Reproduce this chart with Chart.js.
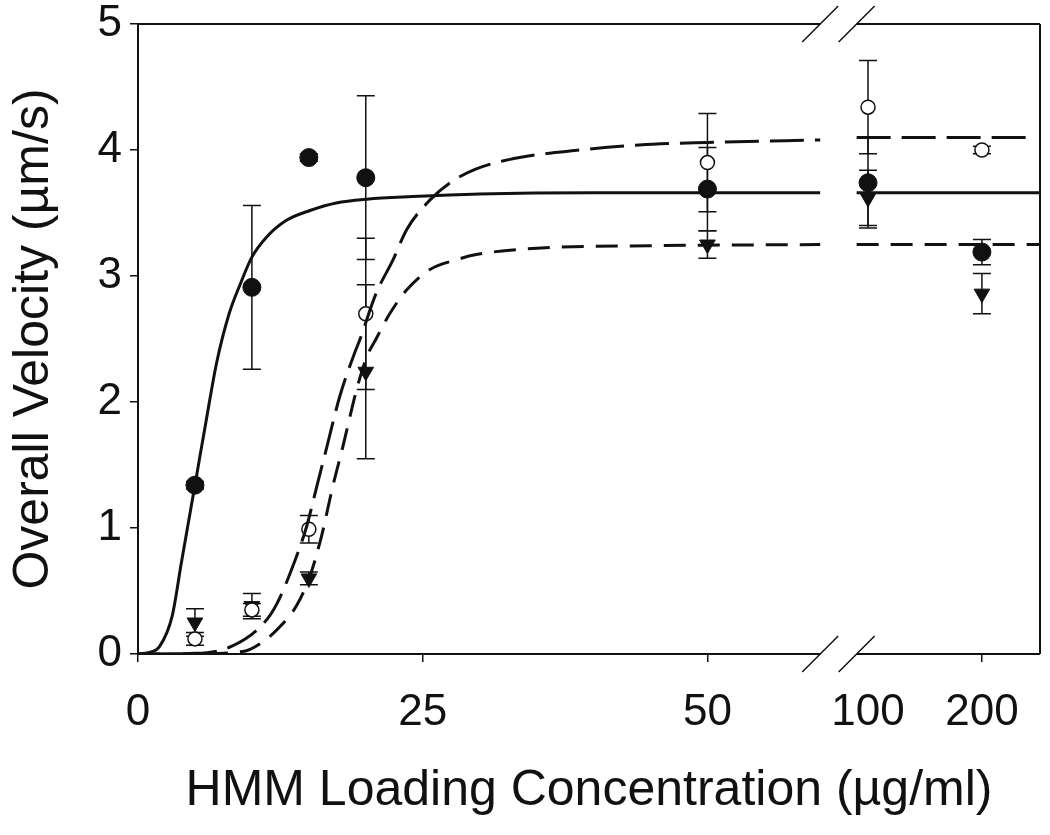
<!DOCTYPE html>
<html lang="en">
<head>
    <meta charset="UTF-8">
    <title>Overall Velocity vs HMM Loading</title>
    <script src="https://cdn.jsdelivr.net/npm/chart.js@4.4.1/dist/chart.umd.min.js"></script>
    <style>
        html, body { margin: 0; padding: 0; background: #fff; }
        #wrap { width: 1050px; height: 835px; }
    </style>
</head>
<body>
    <div id="wrap"><canvas id="velChart"></canvas></div>

    <script>
        // x axis is broken after 50: 100 and 200 sit at fixed spots on the right
        const tickPos = [0, 25, 50, 64.1, 74.1];
        const tickLabels = ['0', '25', '50', '100', '200'];
        const breakFrom = 59.9, breakTo = 63.1;

        // measured concentrations and where they land on the broken axis
        const concentrations = [5, 10, 15, 20, 50, 100, 200];
        const axisPos = [5, 10, 15, 20, 50, 64.1, 74.1];

        // filled circles
        const filledVel = [1.34, 2.91, 3.94, 3.78, 3.69, 3.74, 3.19];
        const filledErr = [0.03, 0.65, 0.03, 0.65, 0.33, 0.36, 0.10];
        // open circles
        const openVel = [0.12, 0.35, 0.99, 2.70, 3.90, 4.34, 4.00];
        const openErr = [0.05, 0.05, 0.11, 0.60, 0.39, 0.37, 0.03];
        // triangles
        const triVel = [0.25, 0.38, 0.60, 2.24, 3.25, 3.62, 2.86];
        const triErr = [0.11, 0.10, 0.05, 0.69, 0.11, 0.22, 0.16];

        // fitted curves (null = axis break)
        const fitSolidX = [0, 0.9, 1.9, 3.0, 3.8, 5.0, 6.0, 6.9, 8.0, 9.0, 10.0, 11.3, 13.0, 15.1, 17.4, 20.1, 24.1, 30, 40, 59.9, 61.5, 63.1, 79.2];
        const fitSolidY = [0, 0.01, 0.06, 0.30, 0.72, 1.34, 1.86, 2.31, 2.70, 2.94, 3.15, 3.31, 3.44, 3.52, 3.58, 3.61, 3.63, 3.65, 3.66, 3.66, null, 3.66, 3.66];
        const fitLongX = [0, 5, 8.2, 11.0, 12.2, 13.9, 14.8, 15.7, 16.6, 17.7, 18.9, 19.5, 20.9, 22.4, 23.6, 25.6, 27.4, 29.7, 33.5, 38.8, 44, 50, 59.9, 61.5, 63.1, 78.5];
        const fitLongY = [0, 0.005, 0.06, 0.24, 0.40, 0.77, 1.01, 1.33, 1.65, 2.04, 2.36, 2.50, 2.86, 3.13, 3.37, 3.60, 3.74, 3.85, 3.94, 4.00, 4.04, 4.06, 4.08, null, 4.10, 4.10];
        const fitShortX = [0, 5, 9.2, 11.0, 12.5, 13.9, 15.1, 16.1, 17.1, 18.0, 19.2, 20.1, 20.9, 22.1, 23.6, 25.6, 28.0, 29.7, 35, 45, 59.9, 61.5, 63.1, 79.2];
        const fitShortY = [0, 0.003, 0.02, 0.10, 0.22, 0.38, 0.62, 0.93, 1.33, 1.65, 2.10, 2.36, 2.50, 2.70, 2.89, 3.05, 3.13, 3.17, 3.22, 3.24, 3.25, null, 3.25, 3.25];

        const ink = '#111';
        const pts = (xs, ys) => xs.map((x, i) => ({ x: x, y: ys[i] }));

        const curve = (xs, ys, dash) => ({
            type: 'line',
            data: pts(xs, ys),
            borderColor: ink,
            borderWidth: 3,
            borderDash: dash,
            pointRadius: 0,
            cubicInterpolationMode: 'monotone',
            spanGaps: false,
            fill: false
        });

        const markers = (ys, errs, style) => Object.assign({
            type: 'scatter',
            data: pts(axisPos, ys),
            errors: errs,
            showLine: false
        }, style);

        // frame with the axis break, and the vertical error bars
        const framePlugin = {
            id: 'frame',
            beforeDatasetsDraw(chart) {
                const { ctx, scales: { x, y } } = chart;
                ctx.save();
                ctx.strokeStyle = ink;
                ctx.lineWidth = 1.5;
                chart.data.datasets.forEach(ds => {
                    if (!ds.errors) return;
                    ds.data.forEach((p, i) => {
                        const px = x.getPixelForValue(p.x);
                        const top = y.getPixelForValue(p.y + ds.errors[i]);
                        const bot = y.getPixelForValue(p.y - ds.errors[i]);
                        ctx.beginPath();
                        ctx.moveTo(px, top); ctx.lineTo(px, bot);
                        ctx.moveTo(px - 9, top); ctx.lineTo(px + 9, top);
                        ctx.moveTo(px - 9, bot); ctx.lineTo(px + 9, bot);
                        ctx.stroke();
                    });
                });
                ctx.restore();
            },
            afterDraw(chart) {
                const { ctx, chartArea: a, scales: { x } } = chart;
                const g1 = x.getPixelForValue(breakFrom), g2 = x.getPixelForValue(breakTo);
                ctx.save();
                ctx.strokeStyle = ink;
                ctx.lineWidth = 2;
                ctx.beginPath();
                ctx.moveTo(a.left, a.top); ctx.lineTo(a.left, a.bottom);
                ctx.moveTo(a.right, a.top); ctx.lineTo(a.right, a.bottom);
                [a.top, a.bottom].forEach(yy => {
                    ctx.moveTo(a.left, yy); ctx.lineTo(g1, yy);
                    ctx.moveTo(g2, yy); ctx.lineTo(a.right, yy);
                });
                ctx.stroke();
                ctx.lineWidth = 1.5;
                ctx.beginPath();
                [a.top, a.bottom].forEach(yy => {
                    [g1, g2].forEach(gx => {
                        ctx.moveTo(gx - 18, yy + 18); ctx.lineTo(gx + 18, yy - 18);
                    });
                });
                ctx.stroke();
                ctx.restore();
            }
        };

        const font = 'Arial, "Liberation Sans", sans-serif';

        new Chart(document.getElementById('velChart'), {
            data: {
                datasets: [
                    curve(fitSolidX, fitSolidY, []),
                    curve(fitLongX, fitLongY, [34, 11]),
                    curve(fitShortX, fitShortY, [22, 12]),
                    markers(openVel, openErr, {
                        pointStyle: 'circle', pointRadius: 7,
                        pointBackgroundColor: '#fff', pointBorderColor: ink, pointBorderWidth: 1.5
                    }),
                    markers(triVel, triErr, {
                        pointStyle: 'triangle', pointRotation: 180, pointRadius: 9,
                        pointBackgroundColor: ink, pointBorderColor: ink, pointBorderWidth: 1
                    }),
                    markers(filledVel, filledErr, {
                        pointStyle: 'circle', pointRadius: 9,
                        pointBackgroundColor: ink, pointBorderColor: ink, pointBorderWidth: 1
                    })
                ]
            },
            options: {
                responsive: true,
                maintainAspectRatio: false,
                animation: false,
                layout: { padding: { top: 24, right: 10, left: 0, bottom: 0 } },
                plugins: { legend: { display: false }, tooltip: { enabled: false } },
                scales: {
                    x: {
                        type: 'linear',
                        min: 0,
                        max: 79.2,
                        afterBuildTicks: s => { s.ticks = tickPos.map(v => ({ value: v })); },
                        afterFit: s => { s.height = 181; s.paddingRight = 0; },
                        border: { display: false },
                        grid: {
                            drawOnChartArea: false,
                            tickLength: 8,
                            lineWidth: 1.5,
                            tickColor: c => (c.tick && c.tick.value === 64.1) ? 'rgba(0,0,0,0)' : ink
                        },
                        ticks: {
                            autoSkip: false,
                            maxRotation: 0,
                            padding: 24,
                            color: ink,
                            font: { family: font, size: 44 },
                            callback: (v, i) => tickLabels[i]
                        },
                        title: {
                            display: true,
                            text: 'HMM Loading Concentration (µg/ml)',
                            color: ink,
                            font: { family: font, size: 50 },
                            padding: { top: 0, bottom: 14 }
                        }
                    },
                    y: {
                        min: 0,
                        max: 5,
                        afterFit: s => { s.width = 138; s.paddingTop = 0; s.paddingBottom = 0; },
                        border: { display: false },
                        grid: { drawOnChartArea: false, tickLength: 8, lineWidth: 1.5, tickColor: ink },
                        ticks: {
                            stepSize: 1,
                            padding: 8,
                            color: ink,
                            font: { family: font, size: 44 }
                        },
                        title: {
                            display: true,
                            text: 'Overall Velocity (µm/s)',
                            color: ink,
                            font: { family: font, size: 50 },
                            padding: { top: 4, bottom: 0 }
                        }
                    }
                }
            },
            plugins: [framePlugin]
        });
    </script>
</body>
</html>
